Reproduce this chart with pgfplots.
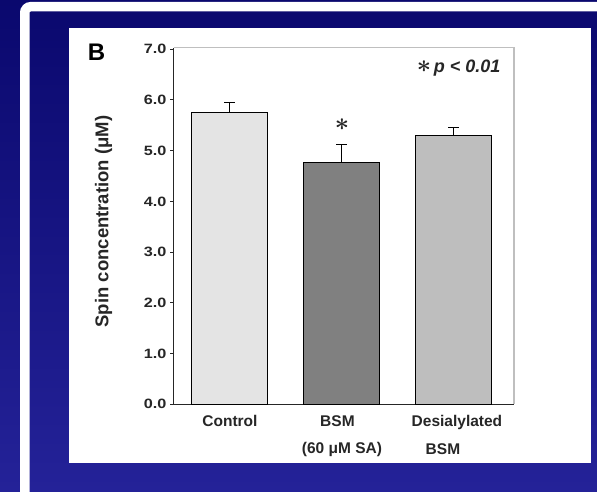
\documentclass[border=0pt]{standalone}
\usepackage{fontspec}
\setmainfont{Liberation Sans}
\usepackage{graphicx}
\usepackage{pgfplots}
\pgfplotsset{compat=1.18}
\definecolor{navytop}{RGB}{10,8,110}
\definecolor{navybot}{RGB}{36,34,152}
\definecolor{barA}{RGB}{228,228,228}
\definecolor{barB}{RGB}{128,128,128}
\definecolor{barC}{RGB}{190,190,190}
\newcommand{\bast}{\mbox{\fontsize{28}{28}\selectfont\boldmath$\ast$}}
\begin{document}
\begin{tikzpicture}[x=1pt,y=1pt]
\useasboundingbox (0,0) rectangle (597,491);
\clip (0,0) rectangle (597,491);
\shade[top color=navytop, bottom color=navybot] (0,0) rectangle (597,491);
\draw[white, line width=9.5pt, rounded corners=6pt] (24.75,-30) -- (24.75,484.3) -- (660,484.3);
\fill[white] (69,28) rectangle (591,463);
\node[font=\fontsize{24}{24}\selectfont\bfseries] at (96.5,439) {B};
\node[rotate=90, font=\fontsize{18.5}{18.5}\selectfont\bfseries, text=black!85] at (103.5,269.5) {Spin concentration (μM)};
\node[anchor=east, text=black!85] at (504,423.3) {\bast\ {\fontsize{18}{18}\selectfont\bfseries\itshape p < 0.01}};
\begin{axis}[
  at={(173.5pt,86.7pt)}, anchor=south west,
  scale only axis, width=340.5pt, height=356.6pt,
  xmin=-0.504, xmax=2.536, ymin=0, ymax=7.03,
  axis x line*=bottom, axis y line*=left,
  axis line style={line width=1.2pt, black!85, -},
  ytick={0,1,2,3,4,5,6,7},
  /pgf/number format/assume math mode=true,
  yticklabel={\scalebox{1.2}[1]{\pgfmathprintnumber[fixed,fixed zerofill,precision=1]{\tick}}},
  yticklabel style={font=\fontsize{13.5}{13.5}\selectfont\bfseries, text=black!85},
  tick align=outside, major tick length=3.5pt,
  y tick style={black!85, line width=1pt},
  xtick={0,1,2},
  xticklabels={Control, {BSM\hspace*{9pt}\\[12pt](60 μM SA)}, {\hspace*{6pt}Desialylated\\[12pt]BSM\hspace*{22pt}}},
  xticklabel style={align=center, font=\fontsize{15.5}{15.5}\selectfont\bfseries, text=black!85, anchor=north, yshift=-4pt},
  x tick style={draw=none},
  clip=false,
]
\addplot[ybar, bar width=76pt, bar shift=0pt, fill=barA, draw=black, line width=1pt,
  error bars/.cd, y dir=plus, y explicit,
  error bar style={black, line width=1pt},
  error mark options={rotate=90, mark size=5.5pt, black, line width=1pt}]
  coordinates {(0,5.76) +- (0,0.18)};
\addplot[ybar, bar width=76pt, bar shift=0pt, fill=barB, draw=black, line width=1pt,
  error bars/.cd, y dir=plus, y explicit,
  error bar style={black, line width=1pt},
  error mark options={rotate=90, mark size=5.5pt, black, line width=1pt}]
  coordinates {(1,4.77) +- (0,0.36)};
\addplot[ybar, bar width=76pt, bar shift=0pt, fill=barC, draw=black, line width=1pt,
  error bars/.cd, y dir=plus, y explicit,
  error bar style={black, line width=1pt},
  error mark options={rotate=90, mark size=5.5pt, black, line width=1pt}]
  coordinates {(2,5.30) +- (0,0.16)};
\draw[black!25, line width=1.5pt] (rel axis cs:0,1) -- (rel axis cs:1,1) -- (rel axis cs:1,0);
\node[text=black!85] at (axis cs:1,5.51) {\bast};
\end{axis}
\end{tikzpicture}
\end{document}
